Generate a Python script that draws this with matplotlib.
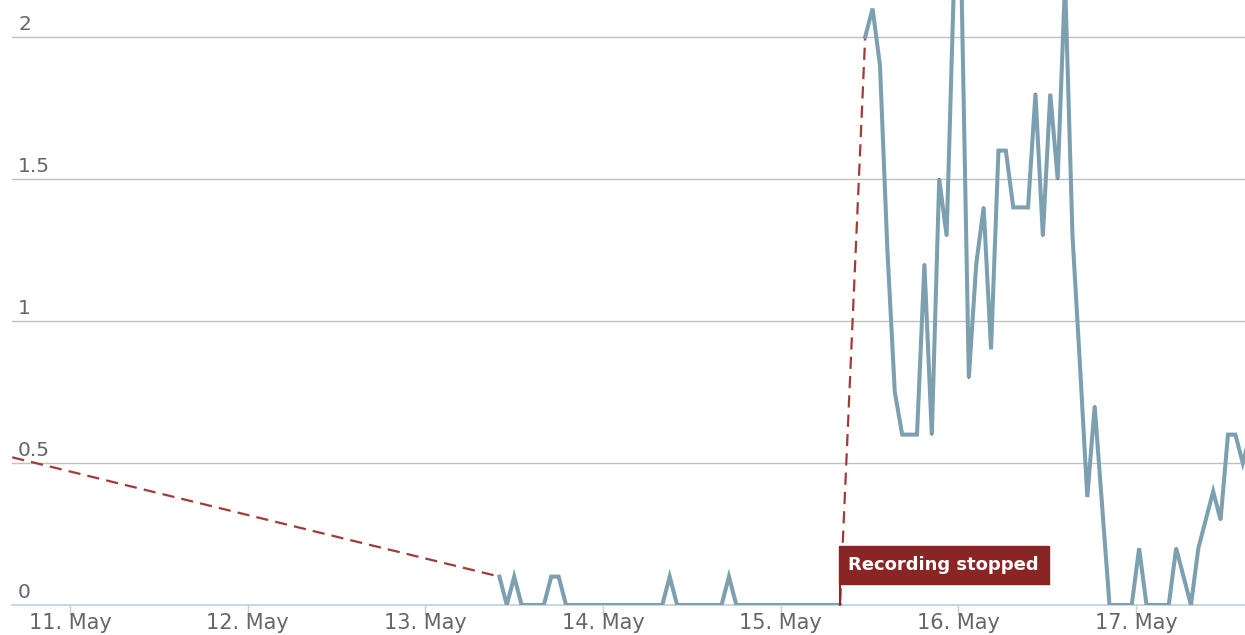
import matplotlib
matplotlib.use("Agg")
import matplotlib.pyplot as plt
import numpy as np
from matplotlib import transforms

# ---------------- data (hours since 11 May 00:00) ----------------
lead_hours = [-7.8]
lead_values = [0.52]

hours_a = [58, 59, 60, 61, 62, 63, 64, 65, 66, 67, 68, 69, 70, 71, 72, 73, 74, 75,
           76, 77, 78, 79, 80, 81, 82, 83, 84, 85, 86, 87, 88, 89, 90, 91, 92, 93,
           94, 95, 96, 97, 98, 99, 100, 101, 102, 103, 104]
values_a = [0.1, 0, 0.1, 0, 0, 0, 0, 0.1, 0.1, 0, 0, 0, 0, 0, 0, 0, 0, 0,
            0, 0, 0, 0, 0, 0.1, 0, 0, 0, 0, 0, 0, 0, 0.1, 0, 0, 0, 0,
            0, 0, 0, 0, 0, 0, 0, 0, 0, 0, 0]

hours_b = [107.4, 108.4, 109.4, 110.4, 111.4, 112.4, 113.4, 114.4, 115.4, 116.4,
           117.4, 118.4, 119.4, 120.4, 121.4, 122.4, 123.4, 124.4, 125.4, 126.4,
           127.4, 128.4, 129.4, 130.4, 131.4, 132.4, 133.4, 134.4, 135.4, 136.4,
           137.4, 138.4, 139.4, 140.4, 141.4, 142.4, 143.4, 144.4, 145.4, 146.4,
           147.4, 148.4, 149.4, 150.4, 151.4, 152.4, 153.4, 154.4, 155.4, 156.4,
           157.4, 158.4, 159.4]
values_b = [2.0, 2.1, 1.9, 1.25, 0.75, 0.6, 0.6, 0.6, 1.2, 0.6,
            1.5, 1.3, 2.2, 2.2, 0.8, 1.2, 1.4, 0.9, 1.6, 1.6,
            1.4, 1.4, 1.4, 1.8, 1.3, 1.8, 1.5, 2.2, 1.3, 0.85,
            0.38, 0.7, 0.35, 0, 0, 0, 0, 0.2, 0, 0,
            0, 0, 0.2, 0.1, 0, 0.2, 0.3, 0.4, 0.3, 0.6,
            0.6, 0.5, 0.6]

tick_hours = [0, 24, 48, 72, 96, 120, 144]
tick_labels = ["11. May", "12. May", "13. May", "14. May", "15. May", "16. May", "17. May"]

y_ticks = [0, 0.5, 1, 1.5, 2]
y_tick_labels = ["0", "0.5", "1", "1.5", "2"]

flag_hour = 104
flag_text = "Recording stopped"

# ---------------- styling ----------------
W, H, DPI = 1245, 635, 100
fig = plt.figure(figsize=(W / DPI, H / DPI), dpi=DPI)
ax = fig.add_axes([12 / W, 30 / H, 1 - 12 / W, 605 / H])

blue = "#7CA0AF"
red = "#A23A3A"
flag_red = "#8B2525"
text_grey = "#666666"

# dashed (connected) series
dash_x = lead_hours + hours_a + hours_b
dash_y = lead_values + values_a + values_b
ax.plot(dash_x, dash_y, color=red, lw=1.6, ls=(0, (5.5, 3.2)), zorder=2)

# solid series with gap
solid_x = hours_a + [np.nan] + hours_b
solid_y = values_a + [np.nan] + values_b
ax.plot(solid_x, solid_y, color=blue, lw=2.9, zorder=3, solid_joinstyle="miter")

ax.set_xlim(-7.83, 158.7)
ax.set_ylim(0, 605 / 284)

# grid
ax.set_yticks(y_ticks)
ax.yaxis.grid(True, color="#C0C0C0", lw=1.0)
ax.set_axisbelow(True)
ax.tick_params(axis="y", length=0, labelleft=False)
for v, lab in zip(y_ticks, y_tick_labels):
    tr = transforms.blended_transform_factory(ax.transAxes, ax.transData)
    tr = tr + transforms.ScaledTranslation(6 / DPI, 3 / DPI, fig.dpi_scale_trans)
    ax.text(0, v, lab, transform=tr, ha="left", va="bottom",
            fontsize=14.5, color=text_grey, zorder=1)

# x axis
ax.set_xticks(tick_hours)
ax.set_xticklabels(tick_labels)
ax.tick_params(axis="x", length=7, width=1, color="#C0D0E0", pad=-1,
               labelsize=15, labelcolor=text_grey)

for s in ["top", "left", "right"]:
    ax.spines[s].set_visible(False)
ax.spines["bottom"].set_color("#C0D0E0")
ax.spines["bottom"].set_linewidth(1.2)

# flag annotation
ax.annotate("", xy=(flag_hour, 0), xytext=(0, 22), textcoords="offset pixels",
            arrowprops=dict(arrowstyle="-", color=flag_red, lw=1.5,
                            shrinkA=0, shrinkB=0), zorder=5)
ax.annotate(flag_text, xy=(flag_hour, 0), xytext=(8.5, 40), textcoords="offset pixels",
            ha="left", va="center", fontsize=13, fontweight="bold", color="white",
            bbox=dict(boxstyle="square,pad=0.55", fc=flag_red, ec=flag_red, lw=1),
            zorder=6, annotation_clip=False)

fig.savefig("out.png", dpi=DPI)
